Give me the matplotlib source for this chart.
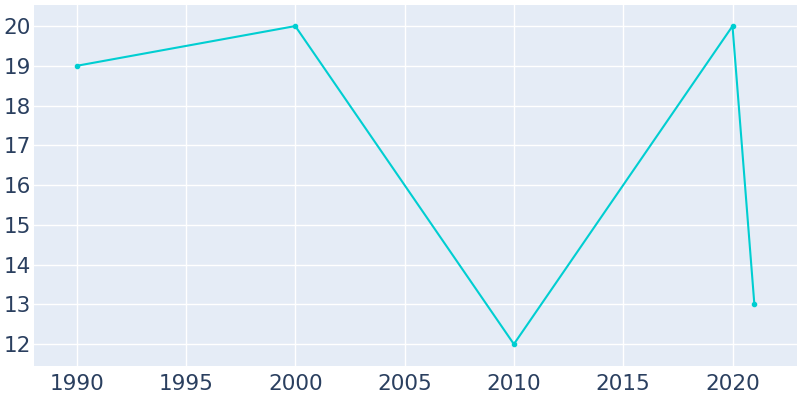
import matplotlib
matplotlib.use("Agg")
import matplotlib.pyplot as plt

years = [1990, 2000, 2010, 2020, 2021]
population = [19, 20, 12, 20, 13]
xticks = [1990, 1995, 2000, 2005, 2010, 2015, 2020]
yticks = [12, 13, 14, 15, 16, 17, 18, 19, 20]

fig = plt.figure(figsize=(8, 4), dpi=100)
ax = fig.add_axes([34/800, 34/400, (797-34)/800, (366-5)/400])
ax.set_facecolor("#E5ECF6")
ax.plot(years, population, color="#00CED1", linewidth=1.5, marker="o", markersize=3, zorder=3)
ax.set_xlim(1988.05, 2022.95)
ax.set_ylim(11.45, 20.53)
ax.set_xticks(xticks)
ax.set_yticks(yticks)
ax.grid(True, color="white", linewidth=1)
ax.set_axisbelow(True)
for s in ax.spines.values():
    s.set_visible(False)
ax.tick_params(length=0, labelsize=15.5, colors="#2a3f5f")
ax.tick_params(axis="x", pad=6)
ax.tick_params(axis="y", pad=2)
fig.savefig("out.png", dpi=100)
